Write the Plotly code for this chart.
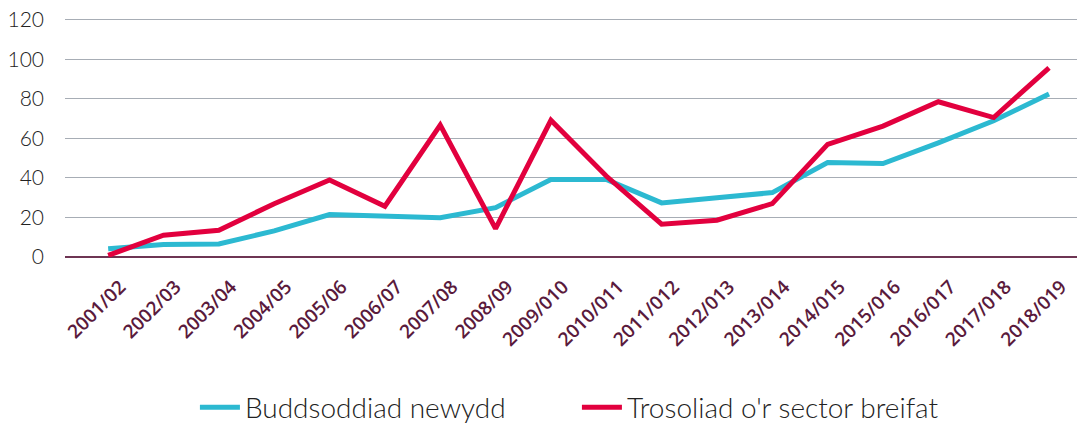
import plotly.graph_objects as go

years = ["2001/02", "2002/03", "2003/04", "2004/05", "2005/06", "2006/07", "2007/08",
         "2008/09", "2009/010", "2010/011", "2011/012", "2012/013", "2013/014",
         "2014/015", "2015/016", "2016/017", "2017/018", "2018/019"]
buddsoddiad = [4.2, 6.3, 6.6, 13.2, 21.5, 20.6, 19.9, 25.0, 39.2, 39.2, 27.4, 30.0,
               32.6, 47.8, 47.3, 57.8, 69.0, 82.5]
trosoliad = [0.8, 11.0, 13.5, 27.0, 39.0, 25.7, 66.8, 14.4, 69.2, 41.0, 16.6, 18.6,
             27.0, 57.0, 66.3, 78.6, 70.6, 95.8]
series_names = ["Buddsoddiad newydd", "Trosoliad o'r sector breifat"]
y_ticks = [0, 20, 40, 60, 80, 100, 120]

fig = go.Figure()
fig.add_trace(go.Scatter(x=years, y=buddsoddiad, mode="lines", name=series_names[0],
                         line=dict(color="#2cb9d1", width=5)))
fig.add_trace(go.Scatter(x=years, y=trosoliad, mode="lines", name=series_names[1],
                         line=dict(color="#e2003e", width=5)))

fig.update_layout(
    width=1077, height=415,
    margin=dict(l=57, r=5, t=10, b=166, autoexpand=False),
    paper_bgcolor="white", plot_bgcolor="white",
    font=dict(family="Lato", size=20, color="#222222"),
    showlegend=True,
    legend=dict(orientation="h", x=0.128, xanchor="left", y=-0.63, yanchor="middle",
                font=dict(family="Lato", size=28, color="#222222", weight=300),
                itemwidth=40, entrywidth=327, entrywidthmode="pixels", tracegroupgap=0),
    xaxis=dict(type="category", range=[-0.78, 17.56], showgrid=False, automargin=False,
               tickangle=-45, tickfont=dict(family="Open Sans", size=19, color="#5a1a3c", weight=600),
               ticks="", showline=False, zeroline=False, ticklabelshift=12, ticklabelstandoff=14),
    yaxis=dict(range=[0, 121], tickvals=y_ticks, showgrid=True, gridcolor="#a7adb5",
               gridwidth=1, zeroline=True, zerolinecolor="#6e3553", zerolinewidth=2,
               automargin=False, ticklabeloverflow="allow",
               tickfont=dict(family="Lato", size=21, color="#222222", weight=300),
               ticks="", ticklabelstandoff=20, showline=False),
)

fig.write_html("out.html")
